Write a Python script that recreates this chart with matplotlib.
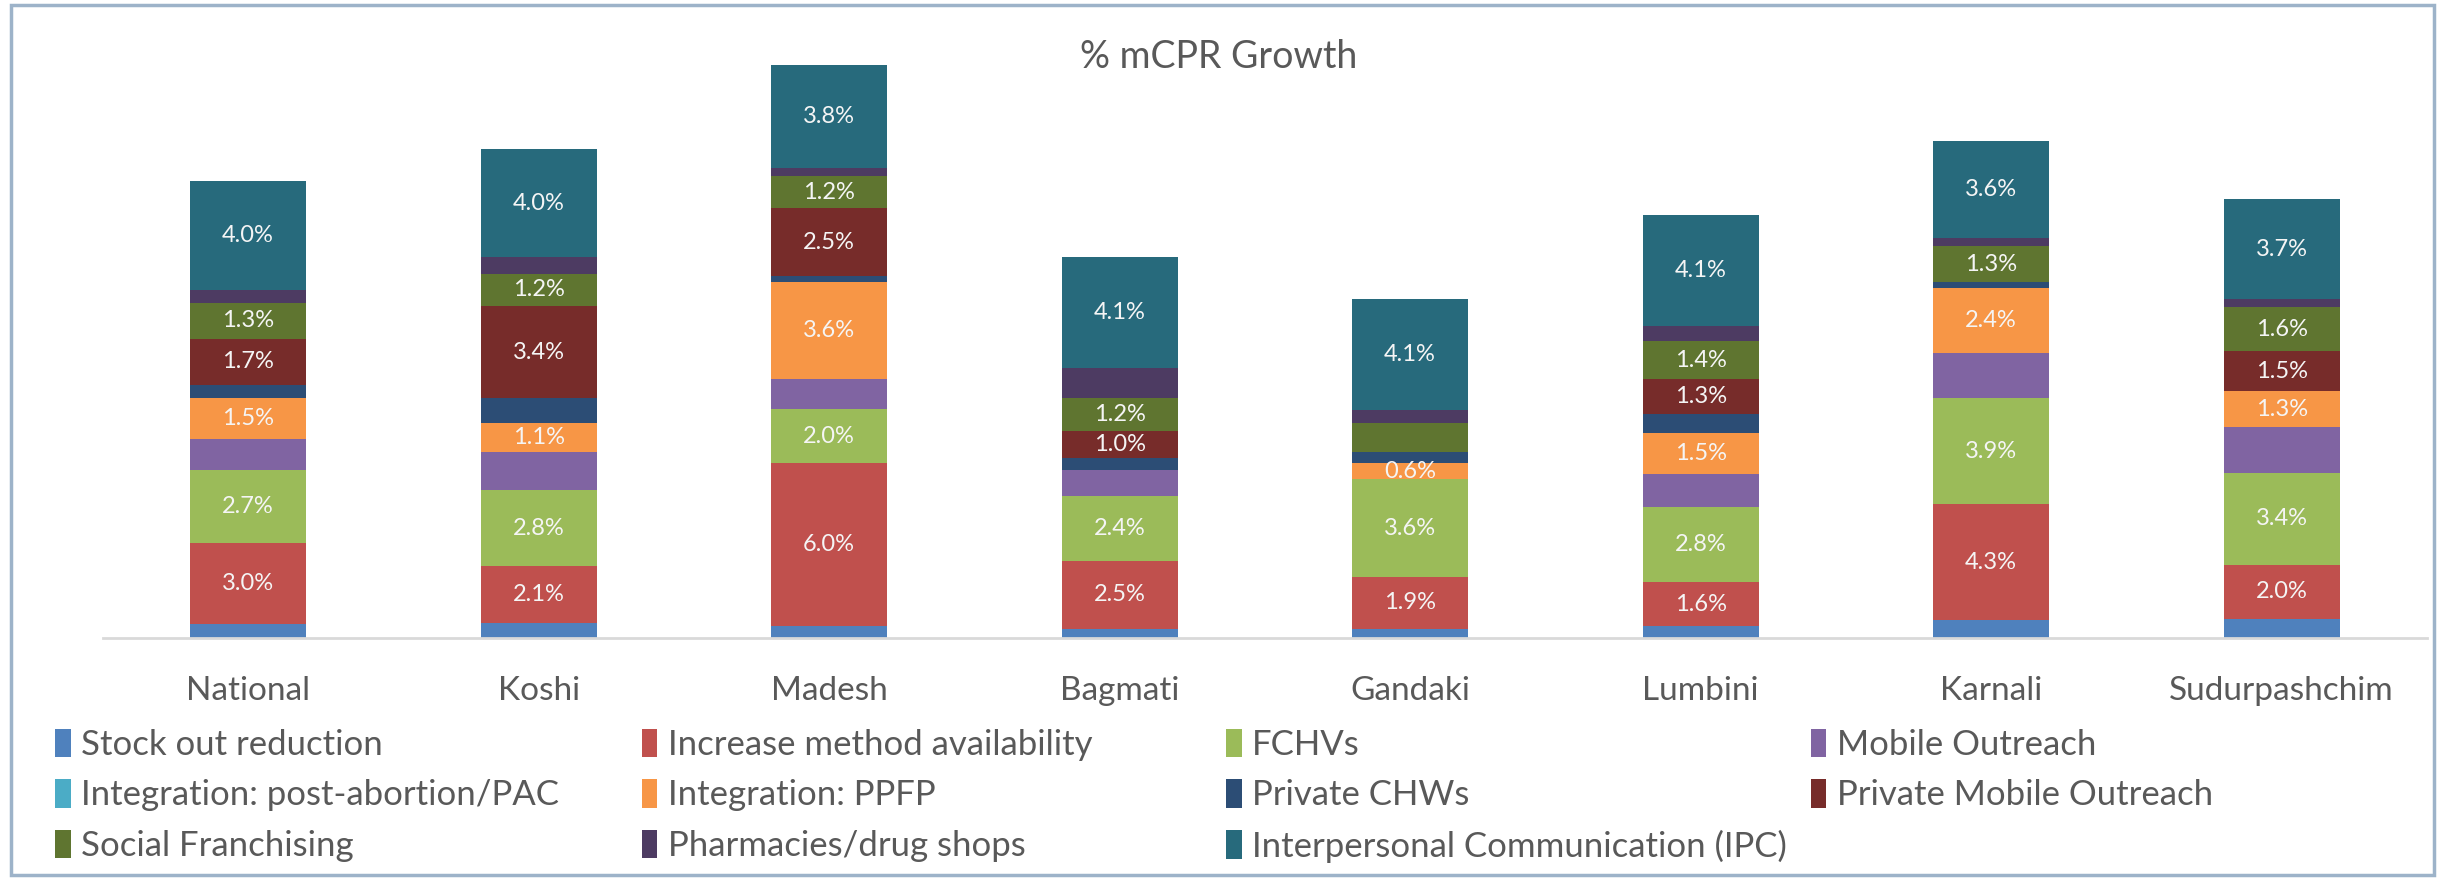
import numpy as np
import matplotlib.pyplot as plt
from matplotlib.patches import Rectangle

plt.rcParams['font.family'] = ['Lato', 'DejaVu Sans']

regions = ['National', 'Koshi', 'Madesh', 'Bagmati', 'Gandaki', 'Lumbini', 'Karnali', 'Sudurpashchim']

# values in % (bottom to top of each stack)
stock_out = [0.5, 0.55, 0.45, 0.35, 0.35, 0.45, 0.65, 0.7]
method_avail = [3.0, 2.1, 6.0, 2.5, 1.9, 1.6, 4.3, 2.0]
fchv = [2.7, 2.8, 2.0, 2.4, 3.6, 2.8, 3.9, 3.4]
mobile = [1.15, 1.4, 1.1, 0.95, 0.0, 1.2, 1.65, 1.7]
pac = [0, 0, 0, 0, 0, 0, 0, 0]
ppfp = [1.5, 1.1, 3.6, 0.0, 0.6, 1.5, 2.4, 1.3]
private_chw = [0.5, 0.9, 0.2, 0.45, 0.4, 0.7, 0.25, 0.0]
private_mobile = [1.7, 3.4, 2.5, 1.0, 0.0, 1.3, 0.0, 1.5]
social_fr = [1.3, 1.2, 1.2, 1.2, 1.1, 1.4, 1.3, 1.6]
pharmacies = [0.5, 0.6, 0.3, 1.1, 0.45, 0.55, 0.3, 0.3]
ipc = [4.0, 4.0, 3.8, 4.1, 4.1, 4.1, 3.6, 3.7]

series = [
    ('Stock out reduction', stock_out, '#4F81BD', False),
    ('Increase method availability', method_avail, '#C0504D', True),
    ('FCHVs', fchv, '#9BBB59', True),
    ('Mobile Outreach', mobile, '#8064A2', False),
    ('Integration: post-abortion/PAC', pac, '#4BACC6', False),
    ('Integration: PPFP', ppfp, '#F79646', True),
    ('Private CHWs', private_chw, '#2C4D75', False),
    ('Private Mobile Outreach', private_mobile, '#772C2A', True),
    ('Social Franchising', social_fr, '#5F7530', True),
    ('Pharmacies/drug shops', pharmacies, '#4D3B62', False),
    ('Interpersonal Communication (IPC)', ipc, '#276A7C', True),
]
# labels that are not shown in the original
hidden = {('Social Franchising', 'Gandaki')}

fig = plt.figure(figsize=(24.45, 8.8), dpi=100)
ax = fig.add_axes([0.0421, 0.275, 0.9505, 0.6775])

x = np.arange(len(regions))
bottom = np.zeros(len(regions))
handles = []
for name, vals, col, show in series:
    vals = np.array(vals, dtype=float)
    bars = ax.bar(x, vals, 0.4, bottom=bottom, color=col, label=name)
    handles.append(bars)
    if show:
        for i, v in enumerate(vals):
            if v > 0 and (name, regions[i]) not in hidden:
                ax.text(x[i], bottom[i] + v / 2, f'{v:.1f}%', ha='center', va='center',
                        color='#F5F5F5', fontsize=17)
    bottom += vals

ax.set_xlim(-0.5, 7.5)
ax.set_ylim(0, 22)
ax.set_yticks([])
ax.set_xticks(x)
ax.set_xticklabels(regions, fontsize=24, color='#595959')
ax.tick_params(axis='x', length=0, pad=27)
for s in ['top', 'right', 'left']:
    ax.spines[s].set_visible(False)
ax.spines['bottom'].set_color('#D9D9D9')
ax.spines['bottom'].set_linewidth(2)

fig.text(0.4985, 0.935, '% mCPR Growth', ha='center', va='center', fontsize=27, color='#595959')

# legend laid out in four even columns, row-major as in the original
col_x = [0.0225, 0.2625, 0.5015, 0.7405]
names = [s[0] for s in series]
for c in range(4):
    idx = list(range(c, len(series), 4))
    leg = fig.legend([handles[i] for i in idx], [names[i] for i in idx],
                     loc='upper left', bbox_to_anchor=(col_x[c], 0.172), frameon=False,
                     fontsize=25, handlelength=0.45, handleheight=0.9, handletextpad=0.3,
                     labelspacing=0.52, borderaxespad=0, borderpad=0)
    for t in leg.get_texts():
        t.set_color('#595959')

fig.add_artist(Rectangle((0.0045, 0.006), 0.991, 0.988, transform=fig.transFigure,
                         fill=False, edgecolor='#9DB3C9', linewidth=2.5))

fig.savefig('out.png', dpi=100)
